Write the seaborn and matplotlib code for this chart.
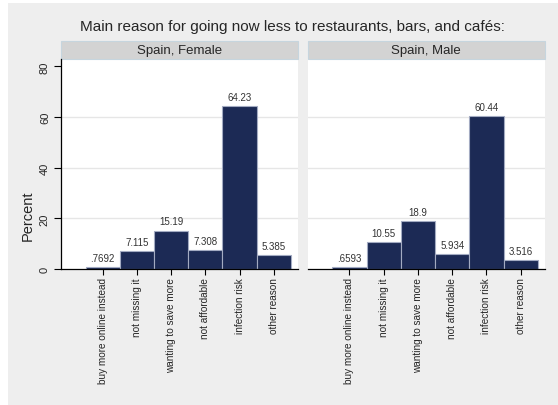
import pandas as pd
import matplotlib
matplotlib.use('Agg')
import matplotlib.pyplot as plt
import seaborn as sns
from matplotlib.patches import Rectangle

reasons = ['buy more online instead', 'not missing it', 'wanting to save more',
           'not affordable', 'infection risk', 'other reason']
female = [0.7692, 7.115, 15.19, 7.308, 64.23, 5.385]
male = [0.6593, 10.55, 18.9, 5.934, 60.44, 3.516]
panels = ['Spain, Female', 'Spain, Male']
yticks = [0, 20, 40, 60, 80]
title = 'Main reason for going now less to restaurants, bars, and cafés:'

df = pd.concat([
    pd.DataFrame({'panel': panels[0], 'reason': reasons, 'percent': female}),
    pd.DataFrame({'panel': panels[1], 'reason': reasons, 'percent': male}),
])


def stata_fmt(v):
    # Stata drops the leading zero
    s = f'{v:.4g}'
    return s[1:] if s.startswith('0.') else s


sns.set_style('white')
plt.rcParams['font.family'] = ['Liberation Sans', 'DejaVu Sans']

W, H = 558, 406
navy = '#1c2a55'
fig = plt.figure(figsize=(W / 100, H / 100), dpi=100, facecolor='#eeeeee')
# thin white margin on the left and top
fig.patches.append(Rectangle((0, 0), 8 / W, 1, transform=fig.transFigure,
                             facecolor='white', edgecolor='none', zorder=-10))
fig.patches.append(Rectangle((0, 1 - 4 / H), 1, 4 / H, transform=fig.transFigure,
                             facecolor='white', edgecolor='none', zorder=-10))


def px_axes(x0, y0, x1, y1):
    return fig.add_axes([x0 / W, 1 - y1 / H, (x1 - x0) / W, (y1 - y0) / H])


boxes = [(61, 60, 297.7, 270), (307.7, 60, 544.7, 270)]
for i, (name, box) in enumerate(zip(panels, boxes)):
    ax = px_axes(*box)
    ax.set_facecolor('white')
    sub = df[df['panel'] == name]
    sns.barplot(data=sub, x='reason', y='percent', order=reasons, color=navy, saturation=1,
                width=1.0, edgecolor='#a3abc2', linewidth=0.8, errorbar=None, ax=ax)
    ax.bar_label(ax.containers[0], labels=[stata_fmt(v) for v in sub['percent']],
                 padding=3, fontsize=7, color='#333333')
    ax.set_xlim(-1.22, 5.7)
    ax.set_ylim(0, 82.9)
    ax.set_yticks(yticks)
    ax.set_xlabel('')
    ax.set_ylabel('')
    for y in yticks[1:-1]:
        ax.axhline(y, color='#e6e6e6', lw=1, zorder=0.5)
    for s in ['top', 'right']:
        ax.spines[s].set_visible(False)
    ax.spines['bottom'].set_color('black')
    ax.spines['bottom'].set_linewidth(0.9)
    ax.tick_params(axis='x', bottom=True, labelrotation=90, length=4, width=0.8,
                   labelsize=7.2, pad=2, color='black')
    if i == 0:
        ax.spines['left'].set_color('black')
        ax.spines['left'].set_linewidth(0.9)
        ax.tick_params(axis='y', left=True, labelrotation=90, length=5, width=0.8,
                       labelsize=8, pad=3, color='black')
        for t in ax.get_yticklabels():
            t.set_va('center')
    else:
        ax.spines['left'].set_visible(False)
        ax.tick_params(axis='y', left=False, labelleft=False)
    # strip header
    sh = 18.3 / 210
    ax.add_patch(Rectangle((0, 1), 1, sh, transform=ax.transAxes, facecolor='#d3d3d3',
                           edgecolor='#c6d5de', lw=0.8, clip_on=False))
    ax.text(0.5, 1 + sh / 2, name, transform=ax.transAxes, ha='center', va='center',
            fontsize=9.5)

fig.text(292 / W, 1 - 27 / H, title, ha='center', va='center', fontsize=11)
fig.text(28 / W, 1 - 216 / H, 'Percent', rotation=90, ha='center', va='center', fontsize=10.5)

fig.savefig('out.png', dpi=100, facecolor=fig.get_facecolor())
